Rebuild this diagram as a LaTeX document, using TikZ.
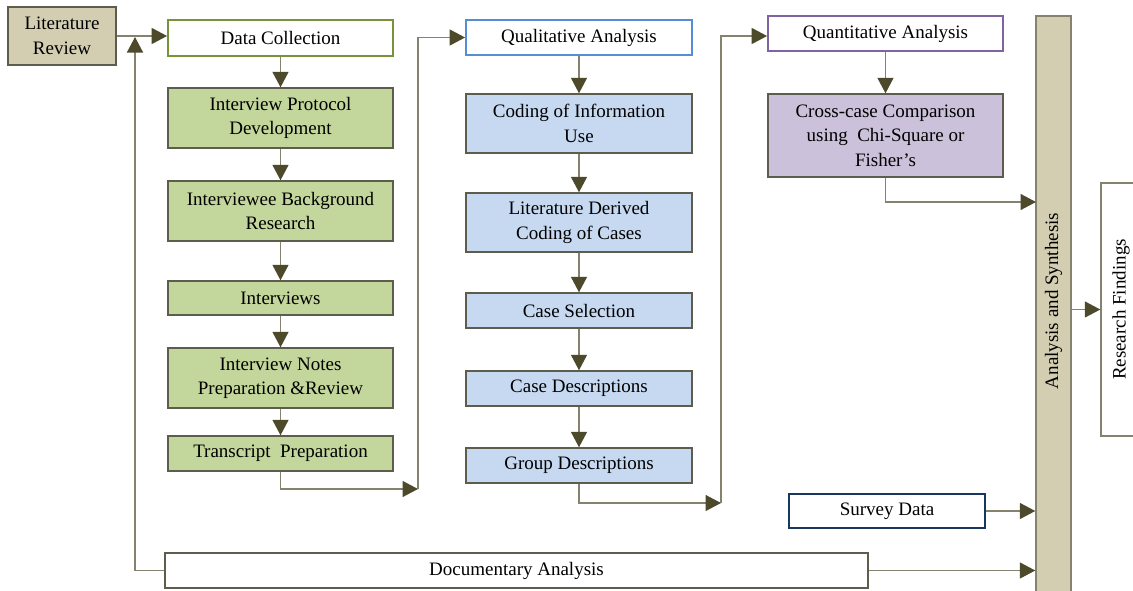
\documentclass[tikz,border=0pt]{standalone}
\usepackage{fontspec}
\setmainfont{Liberation Serif}
\usetikzlibrary{arrows.meta,calc}

\definecolor{tan}{HTML}{D3CEB2}
\definecolor{greenfill}{HTML}{C3D69B}
\definecolor{bluefill}{HTML}{C6D9F1}
\definecolor{purplefill}{HTML}{CCC1DA}
\definecolor{greenedge}{HTML}{77933C}
\definecolor{blueedge}{HTML}{558ED5}
\definecolor{purpleedge}{HTML}{8064A2}
\definecolor{navyedge}{HTML}{17375E}
\definecolor{boxedge}{HTML}{5E5C4C}
\definecolor{wire}{HTML}{85836E}
\definecolor{tipcol}{HTML}{4D4A2C}

\tikzset{
  box/.style={draw=boxedge, line width=1.4pt, align=center, inner sep=0pt,
    font=\fontsize{19}{24.5}\selectfont},
  head/.style={box, fill=white, line width=1.8pt},
  greenbox/.style={box, fill=greenfill},
  bluebox/.style={box, fill=bluefill},
  purplebox/.style={box, fill=purplefill},
  arr/.style={draw=wire, line width=1.5pt,
    -{Triangle[length=15.5pt,width=16pt,color=tipcol]}},
}

\begin{document}
\begin{tikzpicture}[x=1pt,y=-1pt]
\useasboundingbox (0,0) rectangle (1133,590);
\clip (0,0) rectangle (1133,590);

% left column: data collection
\node[box, fill=tan, minimum width=108, minimum height=58] (lit) at (62,36) {Literature\\Review};
\node[head, draw=greenedge, minimum width=225, minimum height=36] (dc) at (280.5,38) {Data Collection};
\node[greenbox, minimum width=225, minimum height=60] (ipd) at (280.5,118) {Interview Protocol\\Development};
\node[greenbox, minimum width=225, minimum height=60] (ibr) at (280.5,211) {Interviewee Background\\Research};
\node[greenbox, minimum width=225, minimum height=34] (iv) at (280.5,298) {Interviews};
\node[greenbox, minimum width=225, minimum height=60] (inp) at (280.5,378) {Interview Notes\\Preparation \&Review};
\node[greenbox, minimum width=225, minimum height=35] (tp) at (280.5,453.5) {Transcript\ \ Preparation};

% middle column: qualitative analysis
\node[head, draw=blueedge, minimum width=226, minimum height=35] (qa) at (579,37.5) {Qualitative Analysis};
\node[bluebox, minimum width=226, minimum height=59] (coi) at (579,123.5) {Coding of Information\\Use};
\node[bluebox, minimum width=226, minimum height=59] (ldc) at (579,222.5) {Literature Derived\\Coding of Cases};
\node[bluebox, minimum width=226, minimum height=35] (cs) at (579,310.5) {Case Selection};
\node[bluebox, minimum width=226, minimum height=35] (cd) at (579,388.5) {Case Descriptions};
\node[bluebox, minimum width=226, minimum height=35] (gd) at (579,465.5) {Group Descriptions};

% right column: quantitative analysis
\node[head, draw=purpleedge, minimum width=235, minimum height=35] (qn) at (885.5,33.5) {Quantitative Analysis};
\node[purplebox, minimum width=235, minimum height=83] (cc) at (885.5,135.5) {Cross-case Comparison\\using\ \ Chi-Square or\\Fisher’s};

\node[head, draw=navyedge, line width=1.6pt, minimum width=196, minimum height=34] (sd) at (887,511) {Survey Data};
\node[box, fill=white, minimum width=703, minimum height=35] (doc) at (516.5,570.5) {Documentary Analysis};

% synthesis bar and findings
\node[box, draw=wire, fill=tan, minimum width=35, minimum height=584] (bar) at (1053.5,308) {};
\node[rotate=90, font=\fontsize{19}{24.5}\selectfont] at (1053.5,301) {Analysis and Synthesis};
\node[box, draw=wire, fill=white, minimum width=40, minimum height=253] (rf) at (1121,309.5) {};
\node[rotate=90, font=\fontsize{19}{24.5}\selectfont] at (1121,309.5) {Research Findings};

% vertical flows inside the columns
\draw[arr] (dc.south) -- (ipd.north);
\draw[arr] (ipd.south) -- (ibr.north);
\draw[arr] (ibr.south) -- (iv.north);
\draw[arr] (iv.south) -- (inp.north);
\draw[arr] (inp.south) -- (tp.north);
\draw[arr] (qa.south) -- (coi.north);
\draw[arr] (coi.south) -- (ldc.north);
\draw[arr] (ldc.south) -- (cs.north);
\draw[arr] (cs.south) -- (cd.north);
\draw[arr] (cd.south) -- (gd.north);
\draw[arr] (qn.south) -- (cc.north);

% links between the stages
\coordinate (loopTop) at (135,37);
\coordinate (c1) at (418,489);
\coordinate (c2) at (721,503);
\coordinate (ccIn) at (1036,202);
\draw[arr] (lit.east |- 0,36) -- (dc.west |- 0,36);
\draw[arr] (doc.west) -| (loopTop);
\draw[arr] (tp.south) |- (c1);
\draw[arr] (c1) |- (qa.west);
\draw[arr] (gd.south) |- (c2);
\draw[arr] (c2) |- (qn.west |- 0,36);
\draw[arr] (cc.south) |- (ccIn);
\draw[arr] (sd.east) -- (sd.east -| bar.west);
\draw[arr] (doc.east) -- (doc.east -| bar.west);
\draw[arr] (bar.east |- rf.west) -- (rf.west);
\end{tikzpicture}
\end{document}
